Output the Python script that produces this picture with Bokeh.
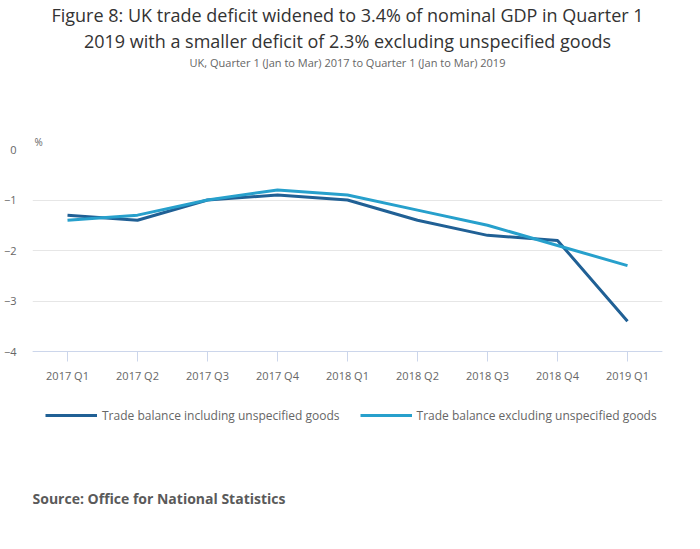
from bokeh.plotting import figure
from bokeh.models import Legend, LegendItem, FixedTicker, Title, Label
from bokeh.embed import file_html
from bokeh.resources import INLINE

quarters = ["2017 Q1", "2017 Q2", "2017 Q3", "2017 Q4", "2018 Q1",
            "2018 Q2", "2018 Q3", "2018 Q4", "2019 Q1"]
incl_unspecified = [-1.3, -1.4, -1.0, -0.9, -1.0, -1.4, -1.7, -1.8, -3.4]
excl_unspecified = [-1.4, -1.3, -1.0, -0.8, -0.9, -1.2, -1.5, -1.9, -2.3]
y_ticks = [0, -1, -2, -3, -4]

title_1 = "Figure 8: UK trade deficit widened to 3.4% of nominal GDP in Quarter 1"
title_2 = "2019 with a smaller deficit of 2.3% excluding unspecified goods"
subtitle = "UK, Quarter 1 (Jan to Mar) 2017 to Quarter 1 (Jan to Mar) 2019"
source = "Source: Office for National Statistics"

FONT = "Open Sans"


def make_title(text, size, color, align="center", standoff=0, offset=0):
    return Title(text=text, align=align, offset=offset, text_font=FONT,
                 text_font_size=size, text_color=color, standoff=standoff,
                 text_font_style="normal")


# the frame runs on below the x axis so that legend and source sit inside it
FRAME_H = 360
y_bottom = -4 * FRAME_H / 202

p = figure(x_range=quarters, y_range=(y_bottom, 0), width=684, height=533,
           frame_width=630, frame_height=FRAME_H,
           min_border_left=27, min_border_right=27,
           min_border_top=0, min_border_bottom=0,
           title=make_title(title_1, "18px", "#333333"),
           output_backend="svg", toolbar_location=None)
p.outline_line_color = None

l1 = p.line(quarters, incl_unspecified, color="#206095", line_width=3)
l2 = p.line(quarters, excl_unspecified, color="#27a0cc", line_width=3)

# axes
p.yaxis.ticker = FixedTicker(ticks=y_ticks)
p.yaxis.axis_line_color = None
p.yaxis.major_tick_line_color = None
p.yaxis.minor_tick_line_color = None
p.yaxis.major_label_standoff = 10
p.xaxis.fixed_location = -4
p.xaxis.axis_line_color = "#ccd6eb"
p.xaxis.major_tick_line_color = "#ccd6eb"
p.xaxis.major_tick_in = 0
p.xaxis.major_tick_out = 10
p.xaxis.major_label_standoff = 6
for ax in (p.xaxis, p.yaxis):
    ax.major_label_text_font = FONT
    ax.major_label_text_font_size = "11px"
    ax.major_label_text_color = "#666666"
p.xgrid.grid_line_color = None
p.ygrid.grid_line_color = "#e6e6e6"

# above: closest to the plot first
p.add_layout(make_title("%", "10px", "#666666", align="left", offset=2, standoff=2), "above")
p.add_layout(make_title(" ", "2px", "#666666", standoff=57), "above")  # spacer
p.add_layout(make_title(subtitle, "11px", "#666666"), "above")
p.add_layout(make_title(title_2, "18px", "#333333"), "above")

legend = Legend(items=[
    LegendItem(label="Trade balance including unspecified goods", renderers=[l1]),
    LegendItem(label="Trade balance excluding unspecified goods", renderers=[l2]),
], orientation="horizontal", location=(13, 84), margin=0, padding=0,
    label_text_font=FONT, label_text_font_size="12px",
    label_text_color="#666666", glyph_width=52, spacing=20,
    label_standoff=5, border_line_color=None, background_fill_alpha=0)
p.add_layout(legend)

p.add_layout(Label(x=0, y=2, x_units="screen", y_units="screen", text=source,
                   text_font=FONT, text_font_size="14px", text_color="#5a5a5a",
                   text_font_style="bold", text_baseline="bottom"))

open("out.html", "w").write(file_html(p, INLINE))
